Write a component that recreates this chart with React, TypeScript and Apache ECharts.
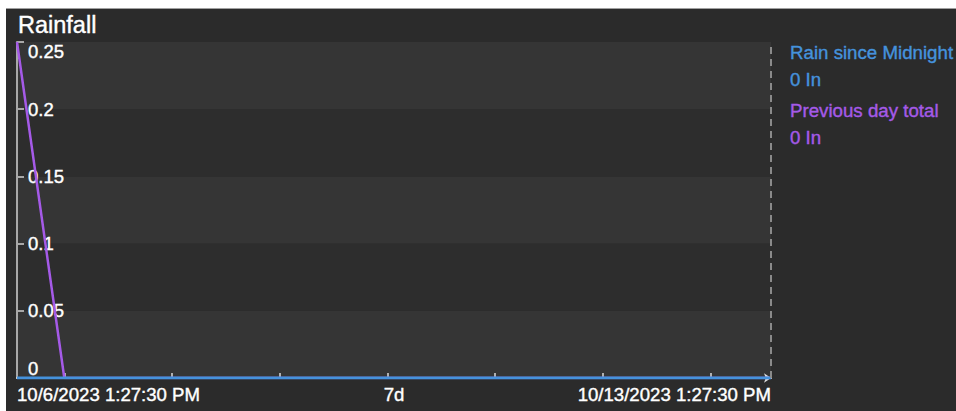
import React, { useEffect, useRef } from "react";
import * as echarts from "echarts";

// ---- data ----
const startTime = new Date(2023, 9, 6, 13, 27, 30).getTime();
const endTime = new Date(2023, 9, 13, 13, 27, 30).getTime();
const midTime = new Date(2023, 9, 10, 1, 27, 30).getTime();
const xLabelTimes = [startTime, midTime, endTime];
const xLabelTexts = ["10/6/2023 1:27:30 PM", "7d", "10/13/2023 1:27:30 PM"];
const tickTimes = [
  new Date(2023, 9, 7).getTime(),
  new Date(2023, 9, 8).getTime(),
  new Date(2023, 9, 9).getTime(),
  new Date(2023, 9, 10).getTime(),
  new Date(2023, 9, 11).getTime(),
  new Date(2023, 9, 12).getTime(),
  new Date(2023, 9, 13).getTime(),
];
const rainSinceMidnight: [number, number][] = [
  [startTime, 0],
  [endTime, 0],
];
const previousDayTotal: [number, number][] = [
  [startTime, 0.25],
  [new Date(2023, 9, 7).getTime(), 0],
  [endTime, 0],
];
const seriesNames = ["Rain since Midnight", "Previous day total"];
const currentValues = ["0 In", "0 In"];
const seriesColors = ["#4592dc", "#a55ae8"];
const yTicks = { min: 0, max: 0.25, interval: 0.05 };

const FONT = "'Liberation Sans', Arial, sans-serif";

export default function App() {
  const ref = useRef<HTMLDivElement>(null);
  useEffect(() => {
    if (!ref.current) return;
    const chart = echarts.init(ref.current, null, { renderer: "svg" });
    chart.setOption({
      animation: false,
      backgroundColor: "#2b2b2b",
      textStyle: { fontFamily: FONT },
      title: {
        text: "Rainfall",
        left: 12,
        top: 4,
        padding: 0,
        textStyle: {
          color: "#ffffff",
          fontSize: 23.5,
          fontWeight: "normal",
          fontFamily: FONT,
          textBorderColor: "#ffffff",
          textBorderWidth: 0.4,
        },
      },
      legend: {
        orient: "vertical",
        left: 779,
        top: 30,
        padding: 0,
        itemGap: 4,
        itemWidth: 0,
        itemHeight: 0,
        icon: "none",
        selectedMode: false,
        data: seriesNames.map((n, i) => ({
          name: n,
          textStyle: { color: seriesColors[i], textBorderColor: seriesColors[i], textBorderWidth: 0.4 },
        })),
        formatter: (name: string) => {
          const i = seriesNames.indexOf(name);
          return `${name}\n${currentValues[i]}`;
        },
        textStyle: { fontSize: 18.7, lineHeight: 27, fontFamily: FONT },
      },
      grid: { left: 11, right: 185, top: 33, bottom: 33, containLabel: false },
      xAxis: {
        type: "value",
        min: startTime,
        max: endTime,
        axisLine: {
          show: true,
          lineStyle: { color: "#dddddd", width: 2 },
          symbol: ["none", "arrow"],
          symbolSize: [7, 7],
        },
        axisTick: {
          show: true,
          inside: true,
          length: 5,
          customValues: tickTimes,
          lineStyle: { color: "#b0b0b0", width: 2 },
        },
        axisLabel: {
          show: true,
          customValues: xLabelTimes,
          formatter: (v: number) => {
            const i = xLabelTimes.indexOf(v);
            return i >= 0 ? xLabelTexts[i] : "";
          },
          alignMinLabel: "left",
          alignMaxLabel: "right",
          color: "#ffffff",
          textBorderColor: "#ffffff",
          textBorderWidth: 0.4,
          fontSize: 18.6,
          margin: 7,
          fontFamily: FONT,
        },
        splitLine: { show: false },
      },
      yAxis: {
        type: "value",
        min: yTicks.min,
        max: yTicks.max,
        interval: yTicks.interval,
        axisLine: { show: true, lineStyle: { color: "#a8a8a8", width: 2 } },
        axisTick: { show: true, inside: true, length: 7, lineStyle: { color: "#a8a8a8", width: 2 } },
        axisLabel: {
          inside: true,
          margin: 11,
          color: "#ffffff",
          textBorderColor: "#ffffff",
          textBorderWidth: 0.4,
          fontSize: 18.5,
          fontFamily: FONT,
          verticalAlignMinLabel: "bottom",
          verticalAlignMaxLabel: "top",
        },
        splitLine: { show: false },
        splitArea: { show: true, areaStyle: { color: ["#353535", "#2d2d2d"] } },
      },
      series: [
        {
          name: seriesNames[1],
          type: "line",
          data: previousDayTotal,
          showSymbol: false,
          symbol: "none",
          lineStyle: { color: seriesColors[1], width: 2.5 },
          itemStyle: { color: seriesColors[1] },
          z: 2,
          markLine: {
            silent: true,
            symbol: ["none", "none"],
            label: { show: false },
            lineStyle: { color: "#8a8a8a", width: 2, type: [7, 5] },
            data: [{ xAxis: endTime }],
          },
        },
        {
          name: seriesNames[0],
          type: "line",
          data: rainSinceMidnight,
          showSymbol: false,
          symbol: "none",
          lineStyle: { color: seriesColors[0], width: 3 },
          itemStyle: { color: seriesColors[0] },
          z: 3,
        },
      ],
    });
    return () => chart.dispose();
  }, []);
  return (
    <div
      style={{
        position: "fixed",
        left: 6,
        top: 8,
        width: 950,
        height: 403,
        borderTop: "1px solid #a0a0a0",
        background: "#2b2b2b",
      }}
    >
      <div ref={ref} style={{ width: 950, height: 402 }} />
    </div>
  );
}
